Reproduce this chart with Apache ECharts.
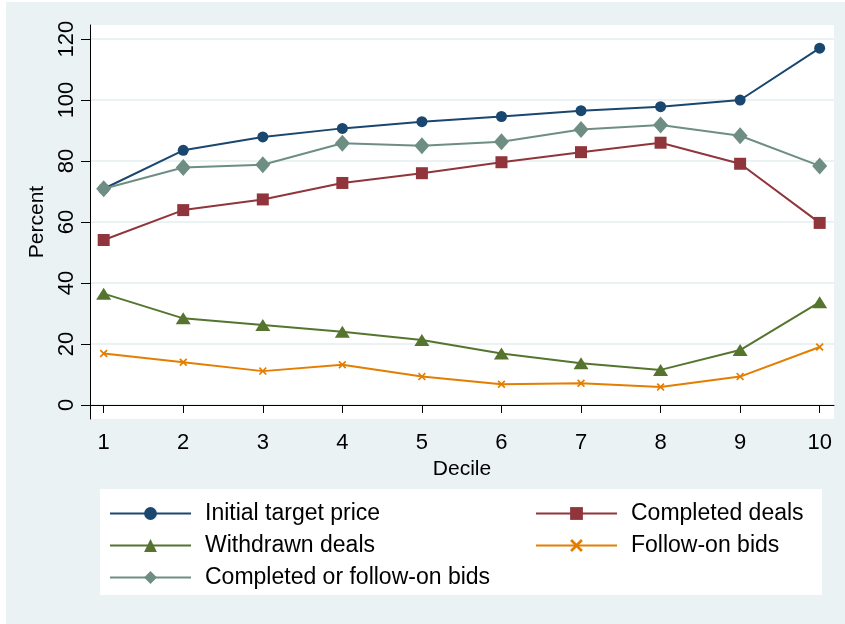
<!DOCTYPE html>
<html>
<head>
<meta charset="utf-8">
<title>Decile chart</title>
<script src="https://cdn.jsdelivr.net/npm/echarts@6/dist/echarts.min.js"></script>
<style>
  html, body { margin: 0; padding: 0; background: #ffffff; }
  #main { position: absolute; left: 6px; top: 2px; width: 839px; height: 622px; }
</style>
</head>
<body>
<div id="main"></div>
<script type="text/javascript">
// data
var deciles = [1, 2, 3, 4, 5, 6, 7, 8, 9, 10];
var yTicks = [0, 20, 40, 60, 80, 100, 120];
var initialTarget = [70.9, 83.5, 87.9, 90.7, 92.9, 94.6, 96.5, 97.8, 100.0, 117.0];
var completedDeals = [54.1, 63.9, 67.4, 72.8, 76.0, 79.6, 82.9, 86.0, 79.1, 59.7];
var withdrawnDeals = [36.5, 28.4, 26.2, 24.0, 21.3, 16.9, 13.7, 11.5, 18.0, 33.7];
var followOnBids = [16.9, 14.0, 11.1, 13.2, 9.3, 6.8, 7.1, 5.9, 9.3, 19.0];
var completedOrFollow = [70.9, 77.9, 78.8, 85.8, 85.0, 86.3, 90.3, 91.8, 88.3, 78.4];

function pairs(vals) {
  return deciles.map(function (d, i) { return [d, vals[i]]; });
}

var font = 'Arial, "Liberation Sans", sans-serif';
var xMark = 'path://M0,1.5L1.5,0L5,3.5L8.5,0L10,1.5L6.5,5L10,8.5L8.5,10L5,6.5L1.5,10L0,8.5L3.5,5Z';

function line(name, vals, color, symbol, size) {
  return {
    name: name,
    type: 'line',
    data: pairs(vals),
    symbol: symbol,
    symbolSize: size,
    showSymbol: true,
    lineStyle: { color: color, width: 2 },
    itemStyle: { color: color },
    emphasis: { disabled: true },
    animation: false
  };
}

var myChart = echarts.init(document.getElementById('main'));

var option = {
  backgroundColor: '#eaf2f3',
  animation: false,
  grid: {
    left: 84, top: 23, right: 11, bottom: 205,
    show: true, backgroundColor: '#ffffff', borderWidth: 0
  },
  xAxis: {
    type: 'value',
    min: 0.828, max: 10.18,
    name: 'Decile',
    nameLocation: 'middle',
    nameGap: 37,
    nameTextStyle: { fontFamily: font, fontSize: 21, color: '#000' },
    axisLine: { show: true, lineStyle: { color: '#000', width: 1 } },
    axisTick: { show: true, length: 8, customValues: deciles, lineStyle: { color: '#000' } },
    axisLabel: { customValues: deciles, fontFamily: font, fontSize: 22, color: '#000', margin: 13 },
    splitLine: { show: false }
  },
  yAxis: {
    type: 'value',
    min: -4.6, max: 124.6,
    name: 'Percent',
    nameLocation: 'middle',
    nameGap: 33,
    nameTextStyle: { fontFamily: font, fontSize: 21, color: '#000' },
    axisLine: { show: true, lineStyle: { color: '#000', width: 1 } },
    axisTick: { show: true, length: 9, customValues: yTicks, lineStyle: { color: '#000' } },
    axisLabel: { customValues: yTicks, rotate: 90, fontFamily: font, fontSize: 22, color: '#000', margin: 12 },
    splitLine: { show: true, lineStyle: { color: '#eaf2f3', width: 2 } }
  },
  graphic: [{
    type: 'rect',
    shape: { x: 94, y: 487, width: 722, height: 106 },
    style: { fill: '#ffffff' },
    z: -1
  }],
  legend: [{
    orient: 'vertical',
    left: 103, top: 500,
    padding: 0,
    itemGap: 9,
    itemWidth: 81, itemHeight: 16,
    data: ['Initial target price', 'Withdrawn deals', 'Completed or follow-on bids'],
    textStyle: { fontFamily: font, fontSize: 23, color: '#000', padding: [0, 0, 0, 9] }
  }, {
    orient: 'vertical',
    left: 529, top: 500,
    padding: 0,
    itemGap: 9,
    itemWidth: 81, itemHeight: 16,
    data: ['Completed deals', 'Follow-on bids'],
    textStyle: { fontFamily: font, fontSize: 23, color: '#000', padding: [0, 0, 0, 9] }
  }],
  series: [
    line('Initial target price', initialTarget, '#1a476f', 'circle', 11),
    line('Completed deals', completedDeals, '#90353b', 'rect', 12),
    line('Withdrawn deals', withdrawnDeals, '#55752f', 'triangle', [15, 12]),
    line('Follow-on bids', followOnBids, '#e37e00', xMark, 8),
    line('Completed or follow-on bids', completedOrFollow, '#6e8e84', 'diamond', [15, 17])
  ]
};

myChart.setOption(option);
</script>
</body>
</html>
